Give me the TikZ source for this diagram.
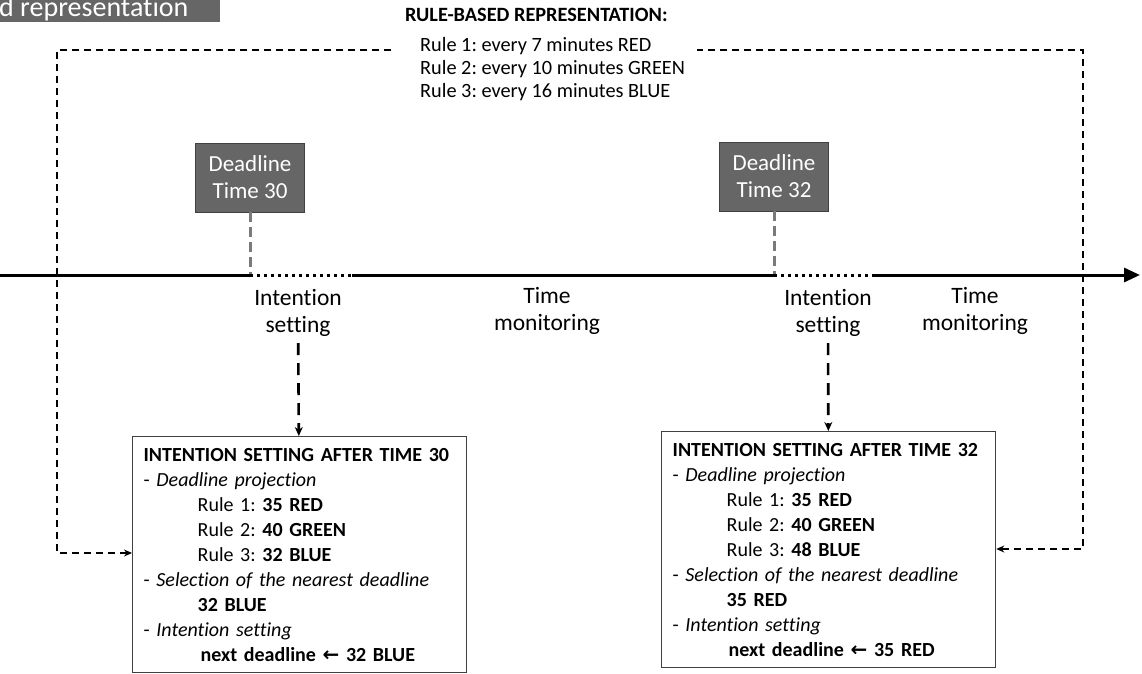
\documentclass[tikz,border=0pt]{standalone}
\usepackage{fontspec}
\setmainfont[Ligatures={NoCommon}]{Carlito}
\newfontfamily\arrowfont{DejaVu Sans}
\usetikzlibrary{arrows.meta}
\frenchspacing
\definecolor{boxgrey}{HTML}{666666}
\definecolor{tickgrey}{HTML}{7A7A7A}
\tikzset{
  deadline/.style={draw=black!75, fill=boxgrey, text=white, minimum width=109pt,
    minimum height=69pt, align=center, font=\fontsize{23}{27}\selectfont},
  phase/.style={align=center, font=\fontsize{23.5}{27}\selectfont},
  intbox/.style={draw=black!75, line width=1.3pt, anchor=north west, align=left,
    minimum width=334pt, minimum height=236pt, text width=312pt, inner xsep=11pt,
    font=\fontsize{20}{25}\selectfont},
  timeline/.style={line width=3pt},
  tick/.style={tickgrey, line width=3pt, dash pattern=on 10pt off 5pt},
  setarrow/.style={line width=2.6pt, dash pattern=on 12pt off 8pt, -{Stealth[length=9pt,width=8pt]}},
  feedback/.style={line width=1.8pt, dash pattern=on 7pt off 5pt, {Stealth[length=8pt,width=7pt]}-{Stealth[length=8pt,width=7pt]}}
}
\begin{document}
\begin{tikzpicture}[x=1pt, y=-1pt]
\clip (0,0) rectangle (1142,673);
\fill[white] (0,0) rectangle (1142,673);
\fill[boxgrey] (0,0) rectangle (220,22);
\node[anchor=base west, text=white, inner sep=0pt, font=\fontsize{28}{30}\selectfont] (hdr) at (-1,16.5) {d representation};
\coordinate (lpa) at (57,553);
\coordinate (lpb) at (57,50);
\coordinate (lpc) at (1083,50);
\coordinate (lpd) at (1083,549);
\node[intbox] (box30) at (132,436) {%
\textbf{INTENTION SETTING AFTER TIME 30}\\
- \textit{Deadline projection}\\
\hspace*{54pt}Rule 1: \textbf{35 RED}\\
\hspace*{54pt}Rule 2: \textbf{40 GREEN}\\
\hspace*{54pt}Rule 3: \textbf{32 BLUE}\\
- \textit{Selection of the nearest deadline}\\
\hspace*{54pt}\textbf{32 BLUE}\\
- \textit{Intention setting}\\
\hspace*{57pt}\textbf{next deadline {\arrowfont ←} 32 BLUE}};
\node[intbox] (box32) at (661,431) {%
\textbf{INTENTION SETTING AFTER TIME 32}\\
- \textit{Deadline projection}\\
\hspace*{54pt}Rule 1: \textbf{35 RED}\\
\hspace*{54pt}Rule 2: \textbf{40 GREEN}\\
\hspace*{54pt}Rule 3: \textbf{48 BLUE}\\
- \textit{Selection of the nearest deadline}\\
\hspace*{54pt}\textbf{35 RED}\\
- \textit{Intention setting}\\
\hspace*{56pt}\textbf{next deadline {\arrowfont ←} 35 RED}};
\draw[feedback] (box30.west |- lpa) -- (lpa) -- (lpb) -- (lpc) -- (lpd) -- (box32.east |- lpd);
\node[anchor=north west, fill=white, align=left, inner xsep=12pt, inner ysep=4pt,
  font=\fontsize{20.3}{23}\selectfont] (rules) at (393,3.5) {%
\textbf{RULE-BASED REPRESENTATION:}\\[7pt]
\hspace*{15pt}Rule 1: every 7 minutes RED\\
\hspace*{15pt}Rule 2: every 10 minutes GREEN\\
\hspace*{15pt}Rule 3: every 16 minutes BLUE};
\node[deadline] (dl30) at (250,177.5) {Deadline\\Time 30};
\node[deadline] (dl32) at (774,176.5) {Deadline\\Time 32};
\coordinate (t0) at (0,275);
\coordinate (d1) at (250,275);
\coordinate (e1) at (352,275);
\coordinate (d2) at (774,275);
\coordinate (e2) at (872,275);
\coordinate (tend) at (1140,275);
\draw[tick] (dl30) -- (d1);
\draw[tick] (dl32) -- (d2);
\draw[timeline] (t0) -- (d1);
\draw[timeline, dash pattern=on 3pt off 4pt] (d1) -- (e1);
\draw[timeline] (e1) -- (d2);
\draw[timeline, dash pattern=on 3pt off 4pt] (d2) -- (e2);
\draw[timeline, -{Triangle[length=16pt,width=14pt]}] (e2) -- (tend);
\node[phase] (is30) at (298,313) {Intention\\setting};
\node[phase] (tm30) at (547,311) {Time\\monitoring};
\node[phase] (is32) at (828,313) {Intention\\setting};
\node[phase] (tm32) at (975,311) {Time\\monitoring};
\draw[setarrow, shorten <=3pt] (is30) -- (box30);
\draw[setarrow, shorten <=3pt] (is32) -- (box32);
\end{tikzpicture}
\end{document}
